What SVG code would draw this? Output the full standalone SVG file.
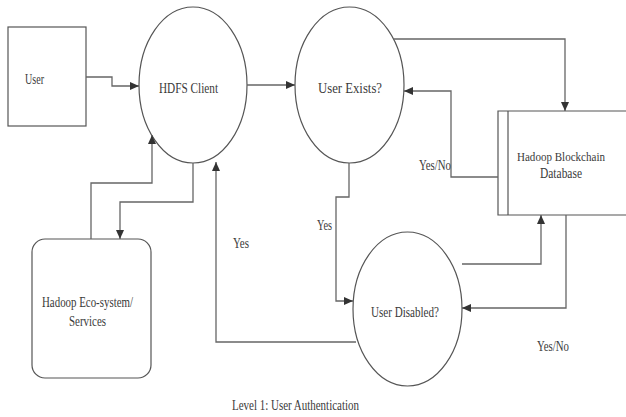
<svg xmlns="http://www.w3.org/2000/svg" width="626" height="417" viewBox="0 0 626 417">
<defs>
<marker id="arr" markerUnits="userSpaceOnUse" markerWidth="10" markerHeight="8" refX="9" refY="4" orient="auto">
<path d="M0,0 L9,4 L0,8 z" fill="#333"/>
</marker>
</defs>
<style>
.shape{fill:#fff;stroke:#555;stroke-width:1.2}
.conn path{fill:none;stroke:#666;stroke-width:1.3;marker-end:url(#arr)}
text{font-family:"Liberation Serif","Times New Roman",serif;font-size:15px;fill:#3a3a3a}
</style>
<rect width="626" height="417" fill="#fff"/>
<g id="user">
<rect class="shape" x="8" y="27" width="78" height="99"/>
<text x="25" y="84" textLength="19" lengthAdjust="spacingAndGlyphs">User</text>
</g>
<g id="hdfs-client">
<ellipse class="shape" cx="193" cy="85" rx="54" ry="78"/>
<text x="159" y="93" textLength="59" lengthAdjust="spacingAndGlyphs">HDFS Client</text>
</g>
<g id="user-exists">
<ellipse class="shape" cx="349.5" cy="85" rx="54.5" ry="78"/>
<text x="318" y="93" textLength="64" lengthAdjust="spacingAndGlyphs">User Exists?</text>
</g>
<g id="blockchain-db">
<path class="shape" d="M626,111 H498 V215 H626"/>
<line x1="508" y1="111" x2="508" y2="215" stroke="#555" stroke-width="1.2"/>
<text x="517" y="161" style="font-size:13.5px" textLength="88" lengthAdjust="spacingAndGlyphs">Hadoop Blockchain</text>
<text x="540" y="178" textLength="42" lengthAdjust="spacingAndGlyphs">Database</text>
</g>
<g id="eco-system">
<rect class="shape" x="32" y="239" width="119" height="139" rx="13" ry="13"/>
<text x="42" y="307" textLength="91" lengthAdjust="spacingAndGlyphs">Hadoop Eco-system/</text>
<text x="69" y="326" textLength="37" lengthAdjust="spacingAndGlyphs">Services</text>
</g>
<g id="user-disabled">
<ellipse class="shape" cx="407.5" cy="309" rx="54.5" ry="77"/>
<text x="371" y="317" textLength="68" lengthAdjust="spacingAndGlyphs">User Disabled?</text>
</g>
<g id="connectors" class="conn">
<path d="M86,77 H112 V86 H139"/>
<path d="M247,85 H295"/>
<path d="M393,39 H565 V111"/>
<path d="M498,177 H451 V91 H404"/>
<path d="M349,163 V197 H336 V301 H353"/>
<path d="M462,264 H541 V215"/>
<path d="M566,215 V308 H462"/>
<path d="M356,342 H216 V162"/>
<path d="M91,239 V183 H152 V135"/>
<path d="M193,163 V202 H120 V239"/>
</g>
<g id="labels">
<text x="419" y="170" textLength="32" lengthAdjust="spacingAndGlyphs">Yes/No</text>
<text x="317" y="230" textLength="15" lengthAdjust="spacingAndGlyphs">Yes</text>
<text x="233" y="248" textLength="16" lengthAdjust="spacingAndGlyphs">Yes</text>
<text x="537" y="351" textLength="32" lengthAdjust="spacingAndGlyphs">Yes/No</text>
<text x="232" y="410" textLength="127" lengthAdjust="spacingAndGlyphs">Level 1: User Authentication</text>
</g>
</svg>
